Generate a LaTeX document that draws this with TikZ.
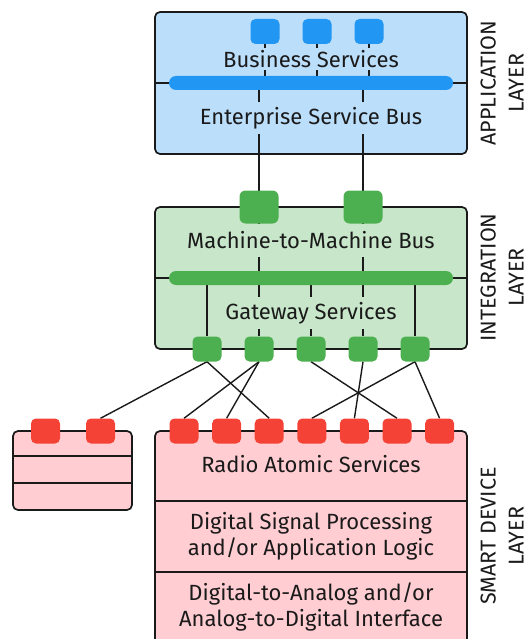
\documentclass[tikz,border=0pt]{standalone}
\usepackage{fontspec}
\setmainfont{Fira Sans}
\usetikzlibrary{positioning}

\definecolor{appfill}{HTML}{BBDEFB}
\definecolor{appdark}{HTML}{2196F3}
\definecolor{intfill}{HTML}{C8E6C9}
\definecolor{intdark}{HTML}{4CAF50}
\definecolor{devfill}{HTML}{FFCDD2}
\definecolor{devdark}{HTML}{F44336}
\definecolor{ink}{HTML}{1A1A1A}

\pgfdeclarelayer{boxes}
\pgfdeclarelayer{wires}
\pgfsetlayers{boxes,wires,main}

\tikzset{
  layerbox/.style={draw=ink, line width=1.7pt, rounded corners=5pt, inner sep=0pt},
  port/.style={rounded corners=5pt, minimum width=29pt, minimum height=25pt, inner sep=0pt},
  bigport/.style={port, rounded corners=6pt, minimum width=39pt, minimum height=33pt},
  bus/.style={rounded corners=7pt, minimum width=284pt, minimum height=14pt, inner sep=0pt},
  lbl/.style={inner xsep=3pt, inner ysep=0pt, minimum height=32pt, text=ink},
  wire/.style={draw=ink, line width=1.4pt},
  layername/.style={rotate=90, align=center, inner sep=0pt, text=ink, font=\fontsize{21.5}{28}\selectfont}
}

\begin{document}
\begin{tikzpicture}[x=1pt, y=-1pt, font=\fontsize{22}{25.6}\selectfont]
  \useasboundingbox (0,0) rectangle (530,639);
  \clip (0,0) rectangle (530,639);

  % layer boxes
  \begin{pgfonlayer}{boxes}
    \node[layerbox, fill=appfill, minimum width=312pt, minimum height=142pt] (appbox) at (311,83) {};
    \node[layerbox, fill=intfill, minimum width=312pt, minimum height=142pt] (intbox) at (311,278) {};
    \node[layerbox, fill=devfill, minimum width=312pt, minimum height=219pt] (devbox) at (311,540.5) {};
    \node[layerbox, fill=devfill, minimum width=119pt, minimum height=79pt] (sidebox) at (72.5,470.5) {};
  \end{pgfonlayer}

  % buses
  \node[bus, fill=appdark] (esb) at (311,83) {};
  \node[bus, fill=intdark] (m2m) at (311,278) {};

  % labels
  \node[lbl, fill=appfill, minimum height=22pt] (bizsvc) at (311,59) {Business Services};
  \node[lbl, fill=appfill] (esbtext) at (311,118) {Enterprise Service Bus};
  \node[lbl, fill=intfill, minimum height=33pt] (m2mtext) at (311,240.5) {Machine-to-Machine Bus};
  \node[lbl, fill=intfill] (gwsvc) at (311,313) {Gateway Services};
  \node[text=ink] (radio) at (311,464) {Radio Atomic Services};
  \node[text=ink, align=center] (dsp) at (311,536) {Digital Signal Processing\\and/or Application Logic};
  \node[text=ink, align=center] (dac) at (311,607) {Digital-to-Analog and/or\\Analog-to-Digital Interface};

  \node[layername] (applayer) at (502,83) {APPLICATION\\LAYER};
  \node[layername] (intlayer) at (502,277.5) {INTEGRATION\\LAYER};
  \node[layername] (devlayer) at (502,536) {SMART DEVICE\\LAYER};

  % ports
  \foreach \i/\x in {1/265,2/317,3/369}
    \node[port, fill=appdark] (bs\i) at (\x,31.5) {};
  \foreach \i/\x in {1/259,2/363}
    \node[bigport, fill=intdark] (gt\i) at (\x,207) {};
  \foreach \i/\x in {1/207,2/259,3/311,4/363,5/415}
    \node[port, fill=intdark] (gb\i) at (\x,349) {};
  \foreach \i in {1,...,7}
    \node[port, fill=devdark] (rs\i) at ({184+42.6*(\i-1)},431) {};
  \foreach \i/\x in {1/45.5,2/100.5}
    \node[port, fill=devdark] (ls\i) at (\x,431) {};

  \coordinate (devcut1) at (311,501);
  \coordinate (devcut2) at (311,572);
  \coordinate (sidecut1) at (72.5,456);
  \coordinate (sidecut2) at (72.5,483);

  \begin{pgfonlayer}{wires}
    % rules across the boxes
    \draw[wire] (appbox.west |- esb) -- (appbox.east |- esb);
    \draw[wire] (intbox.west |- m2m) -- (intbox.east |- m2m);
    \draw[wire] (devbox.west |- devcut1) -- (devbox.east |- devcut1);
    \draw[wire] (devbox.west |- devcut2) -- (devbox.east |- devcut2);
    \draw[wire] (sidebox.west |- sidecut1) -- (sidebox.east |- sidecut1);
    \draw[wire] (sidebox.west |- sidecut2) -- (sidebox.east |- sidecut2);

    % vertical links
    \foreach \i in {1,2,3}
      \draw[wire] (bs\i) -- (bs\i |- esb);
    \draw[wire] (gt1 |- esb) -- (gb2);
    \draw[wire] (gt2 |- esb) -- (gb4);
    \foreach \i in {1,3,5}
      \draw[wire] (gb\i |- m2m) -- (gb\i);

    % gateway to device links
    \foreach \a/\b in {gb1/ls2, gb1/rs3, gb2/rs1, gb2/rs2, gb3/rs6, gb4/rs5, gb5/rs4, gb5/rs7}
      \draw[wire] (\a.south) -- (\b.north);
  \end{pgfonlayer}
\end{tikzpicture}
\end{document}
